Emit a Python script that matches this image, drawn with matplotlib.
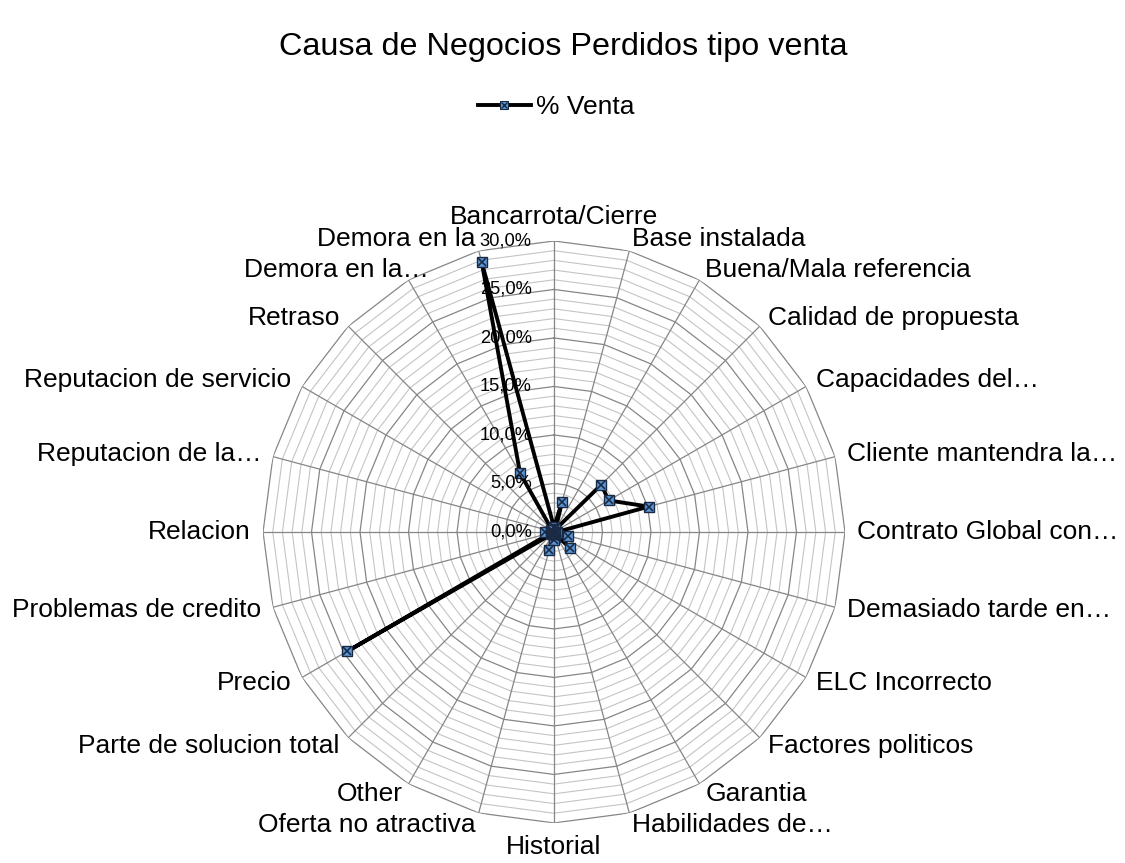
# -*- coding: utf-8 -*-

# Import required libraries
import matplotlib.pyplot as plt
from matplotlib.lines import Line2D
import numpy as np

# Parameters for the figure
plt.rcParams['font.family'] = ['Liberation Sans', 'DejaVu Sans']
plt.rcParams['figure.dpi'] = 100

# Categories (in the order of the chart, clockwise from the top)
categories = ['Bancarrota/Cierre', 'Base instalada', 'Buena/Mala referencia',
              'Calidad de propuesta', u'Capacidades del…',
              u'Cliente mantendra la…', u'Contrato Global con…',
              u'Demasiado tarde en…', 'ELC Incorrecto', 'Factores politicos',
              'Garantia', u'Habilidades de…', 'Historial',
              'Oferta no atractiva', 'Other', 'Parte de solucion total',
              'Precio', 'Problemas de credito', 'Relacion',
              u'Reputacion de la…', 'Reputacion de servicio', 'Retraso',
              u'Demora en la…', 'Demora en la']

# % Venta (percent)
venta = [0.5, 3.2, 0.3, 6.9, 6.5, 10.1, 0.3, 1.5, 0.3, 2.3, 0.3, 0.5,
         0.8, 1.9, 0.3, 0.3, 24.6, 0.3, 0.9, 0.3, 0.3, 0.3, 7.0, 28.8]

# Radial axis
r_max = 30
major_ticks = [0, 5, 10, 15, 20, 25, 30]
minor_ticks = [v for v in range(1, 30) if v % 5 != 0]
tick_labels = ['0,0%', '5,0%', '10,0%', '15,0%', '20,0%', '25,0%', '30,0%']

# Colors
major_grey = '#868686'
minor_grey = '#c4c4c4'
marker_blue = '#5a97d6'
marker_edge = '#1b2a44'

n = len(categories)
angles = np.arange(n) * 2 * np.pi / n
ring = np.append(angles, angles[0])

fig = plt.figure(figsize=(11.25, 8.63))
ax = fig.add_axes([0.2338, 0.0464, 0.5173, 0.6744], projection='polar')
ax.set_theta_zero_location('N')
ax.set_theta_direction(-1)
ax.set_ylim(0, r_max)
ax.grid(False)
ax.spines['polar'].set_visible(False)
ax.set_xticks([])
ax.set_yticks([])
ax.patch.set_alpha(0)

# Polygon gridlines (minor every 1 %, major every 5 %)
for v in minor_ticks:
    ax.plot(ring, [v] * len(ring), color=minor_grey, lw=0.8, zorder=1)
for v in major_ticks[1:]:
    ax.plot(ring, [v] * len(ring), color=major_grey, lw=0.9, zorder=2)
# Spokes
for a in angles:
    ax.plot([a, a], [0, r_max], color=major_grey, lw=0.9, zorder=2)

# Data line
vals = np.append(venta, venta[0])
ax.plot(ring, vals, color='black', lw=2.8, zorder=5, clip_on=False)
ax.plot(angles, venta, ls='none', marker='s', ms=7.5, mfc=marker_blue,
        mec=marker_edge, mew=1.0, zorder=6, clip_on=False)
ax.plot(angles, venta, ls='none', marker='x', ms=5.5, mec=marker_edge,
        mew=1.2, zorder=7, clip_on=False)

# Radial tick labels, left of the top spoke
for v, lab in zip(major_ticks, tick_labels):
    ax.annotate(lab, xy=(0, v), xytext=(-16, 0), textcoords='offset points',
                ha='right', va='center', fontsize=13.2, zorder=8)

# Category labels
nudge = {u'Demora en la…': (19, 0)}
r_lab = r_max * 303.0 / 291.0
for a, cat in zip(angles, categories):
    s, c = np.sin(a), np.cos(a)
    if abs(s) < 0.05:
        ha = 'center'
    elif s > 0:
        ha = 'left'
    else:
        ha = 'right'
    if abs(s) < 0.05:
        va = 'bottom' if c > 0 else 'top'
    else:
        va = 'center'
    dx, dy = nudge.get(cat, (0, 0))
    ax.annotate(cat, xy=(a, r_lab), xytext=(dx, dy),
                textcoords='offset points', ha=ha, va=va, fontsize=19,
                annotation_clip=False)

# Title
fig.text(0.501, 1 - 47.0 / 863, 'Causa de Negocios Perdidos tipo venta',
         ha='center', va='center', fontsize=23.3)

# Legend
h_line = Line2D([], [], color='black', lw=2.8)
h_sq = Line2D([], [], ls='none', marker='s', ms=6, mfc=marker_blue,
              mec=marker_edge, mew=0.8)
h_x = Line2D([], [], ls='none', marker='x', ms=4.5, mec=marker_edge, mew=1.0)
fig.legend([(h_line, h_sq, h_x)], ['% Venta'], loc='center',
           bbox_to_anchor=(556.0 / 1125, 1 - 107.0 / 863), frameon=False,
           fontsize=19, handlelength=2.0, handletextpad=0.2)

plt.savefig('out.png', dpi=100)
